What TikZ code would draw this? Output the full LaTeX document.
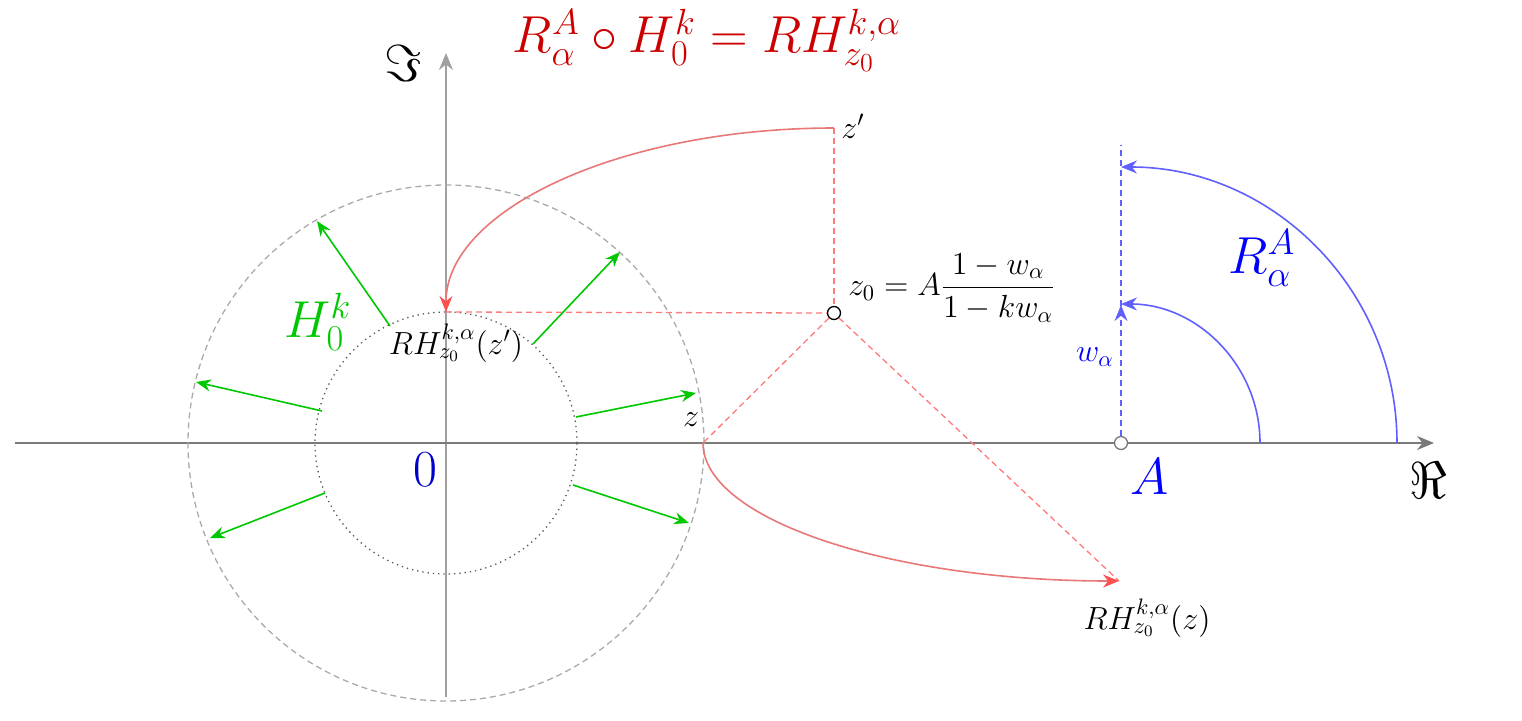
\RequirePackage{fix-cm}
\documentclass[tikz,border=0pt]{standalone}
\usepackage{amsmath}
\usetikzlibrary{arrows.meta,calc}
\definecolor{axgray}{HTML}{7A7A7A}
\definecolor{imgray}{HTML}{A0A0A0}
\definecolor{circgray}{HTML}{AAAAAA}
\definecolor{dotgray}{HTML}{555555}
\definecolor{hgreen}{HTML}{00C800}
\definecolor{curvered}{HTML}{E87878}
\definecolor{dashred}{HTML}{FF7A7A}
\definecolor{tipred}{HTML}{FF5050}
\definecolor{arcblue}{HTML}{6060FF}
\definecolor{labblue}{HTML}{0000FF}
\definecolor{zeroblue}{HTML}{0000CC}
\definecolor{titlered}{HTML}{CC0000}
\newcommand\bigtxt{\fontsize{26}{30}\selectfont}
\newcommand\midtxt{\fontsize{16}{19}\selectfont}
\tikzset{
  axisline/.style={line width=0.8pt,-{Stealth[length=8.5pt,width=7pt]}},
  greenarrow/.style={hgreen,line width=0.8pt,-{Stealth[length=7.5pt,width=6pt]}},
  redcurve/.style={curvered,line width=0.8pt,-{Stealth[length=8pt,width=6.5pt,color=tipred]}},
  reddash/.style={dashred,line width=0.65pt,dash pattern=on 3pt off 2pt},
  bluearc/.style={arcblue,line width=0.8pt,-{Stealth[length=8pt,width=6.5pt]}},
  bluedash/.style={arcblue,line width=0.65pt,dash pattern=on 3pt off 2pt},
  ptmark/.style={circle,draw,fill=white,inner sep=0pt,minimum size=6.5pt,line width=0.65pt},
  bigmath/.style={font=\bigtxt,inner sep=1pt},
  midmath/.style={font=\midtxt,inner sep=1pt},
}
\begin{document}
\begin{tikzpicture}[x=0.5pt,y=0.5pt]
\useasboundingbox (-446,-277) rectangle (1076,443);
% axes
\coordinate (xs) at (-431,0);
\coordinate (xe) at (988,0);
\coordinate (ys) at (0,-254);
\coordinate (ye) at (0,390);
\draw[axisline,imgray] (ys) -- (ye);
\draw[axisline,axgray] (xs) -- (xe);
\node[bigmath] (re) at (982,-37) {$\Re$};
\node[bigmath] (im) at (-43,380) {$\Im$};
% circles
\coordinate (O) at (0,0);
\draw[circgray,line width=0.65pt,dash pattern=on 3pt off 2pt] (O) circle[radius=258];
\draw[dotgray,line width=0.65pt,dotted] (O) circle[radius=131];
% green arrows
\foreach \n/\sx/\sy/\ex/\ey in {1/-56/117/-129/222, 2/-124/32/-250/61, 3/87/99/174/191,
                                4/130/26/250/50, 5/127/-42/243/-80, 6/-121/-50/-236/-95}{
  \coordinate (gs\n) at (\sx,\sy);
  \coordinate (ge\n) at (\ex,\ey);
  \draw[greenarrow] (gs\n) -- (ge\n);
}
\node[bigmath,text=hgreen] (H) at (-128,121) {$H_0^k$};
\node[bigmath,text=zeroblue] (zero) at (-21,-27) {$0$};
% points
\coordinate (zp) at (388,315);
\coordinate (z) at (257,0);
\coordinate (RHzp) at (0,131);
\coordinate (RHz) at (673,-138);
\node[ptmark,draw=black] (z0) at (388,130) {};
\node[ptmark,draw=axgray] (A) at (675,0) {};
\coordinate (wtop) at (675,298);
\coordinate (w) at (675,138);
% red dashed
\draw[reddash] (zp) -- (z0.north);
\draw[reddash] (RHzp) -- (z0.west);
\draw[reddash] (z0.south west) -- (z);
\draw[reddash] (z0.south east) -- (RHz);
% red curves
\draw[redcurve] (zp) .. controls (174,315) and (0,233) .. (RHzp);
\draw[redcurve] (z) .. controls (257,-76) and (443,-138) .. (RHz);
% labels
\node[midmath] (lzp) at (407,317) {$z'$};
\node[midmath] (lz) at (245,23) {$z$};
\node[midmath] (lRHzp) at (10,100) {$RH_{z_0}^{k,\alpha}(z')$};
\node[midmath] (lRHz) at (701,-175) {$RH_{z_0}^{k,\alpha}(z)$};
\node[midmath,anchor=west] (lz0) at (400,155) {$z_0=A\dfrac{1-w_\alpha}{1-kw_\alpha}$};
% blue part
\draw[bluedash] (A.north) -- (wtop);
\draw[bluedash,-{Stealth[length=8pt,width=6.5pt]}] (A.north) -- (w);
\draw[bluearc] (814,0) arc[start angle=0,end angle=90,radius=139];
\draw[bluearc] (951,0) arc[start angle=0,end angle=90,radius=276];
\node[midmath,text=labblue] (lw) at (649,86) {$w_\alpha$};
\node[bigmath,text=labblue] (lR) at (816,185) {$R_\alpha^A$};
\node[bigmath,text=labblue] (lA) at (704,-34) {$A$};
% title
\node[bigmath,text=titlered] (title) at (261,403) {$R_\alpha^A\circ H_0^k=RH_{z_0}^{k,\alpha}$};
\end{tikzpicture}
\end{document}
